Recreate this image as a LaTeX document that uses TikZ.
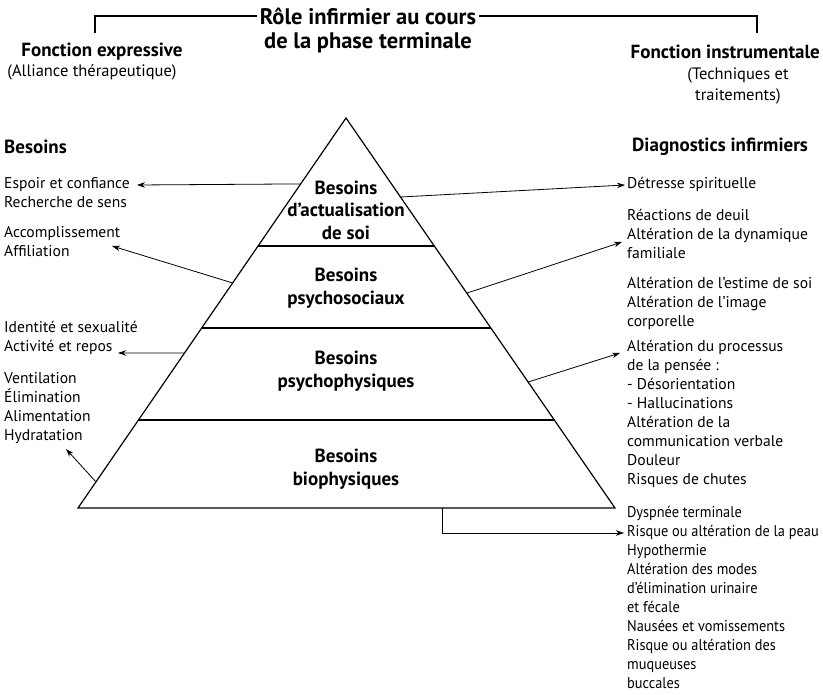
\documentclass[tikz,border=0pt]{standalone}
\usepackage{fontspec}
\setmainfont{PT Sans}
\newfontfamily\narrowsans[FakeStretch=0.92]{PT Sans}
\usetikzlibrary{arrows.meta,positioning,calc}

\begin{document}
\begin{tikzpicture}[x=1pt,y=-1pt,
  >={Stealth[length=8pt,width=5.5pt]},
  txt/.style={inner sep=0pt,align=left,anchor=north west,font=\fontsize{15.6}{19}\selectfont},
  sub/.style={inner sep=0pt,align=center,font=\fontsize{16.5}{21}\selectfont},
  lvl/.style={inner sep=0pt,align=center,font=\bfseries\fontsize{19}{22.5}\selectfont},
  hd/.style={inner sep=0pt,anchor=west,font=\bfseries\fontsize{19}{22}\selectfont},
  ttl/.style={inner xsep=3pt,inner ysep=0pt,font=\bfseries\fontsize{22.5}{27}\selectfont},
  arr/.style={->,line width=0.8pt},
  pyr/.style={line width=1.2pt,line join=miter}]
\useasboundingbox (0,0) rectangle (823,695);
% title and bracket
\node[ttl] (title1) at (368,16) {Rôle infirmier au cours};
\node[ttl] (title2) at (368,43) {de la phase terminale};
\coordinate (brL) at (95,33);
\coordinate (brR) at (757,33);
\draw[line width=2pt] (brL) |- (title1.west);
\draw[line width=2pt] (title1.east) -| (brR);
\node[hd,anchor=center] (fexp) at (102,52) {Fonction expressive};
\node[sub] (fexp2) at (92,72) {(Alliance thérapeutique)};
\node[hd,anchor=east] (finst) at (820,52) {Fonction instrumentale};
\node[sub,anchor=north] (finst2) at (738,68) {(Techniques et\\traitements)};
% pyramid
\coordinate (apex) at (346,118);
\coordinate (bl) at (78,508);
\coordinate (br) at (615,508);
\draw[pyr] (apex) -- (bl) -- (br) -- cycle;
\foreach \n/\t in {a/0.3282,b/0.5385,c/0.7744}
  \draw[pyr] ($(apex)!\t!(bl)$) coordinate (\n w) -- ($(apex)!\t!(br)$) coordinate (\n e);
\node[lvl] (lvl1) at (346,210) {Besoins\\d’actualisation\\de soi};
\node[lvl] (lvl2) at (346,288) {Besoins\\psychosociaux};
\node[lvl] (lvl3) at (346,371) {Besoins\\psychophysiques};
\node[lvl] (lvl4) at (346,469) {Besoins\\biophysiques};
% left column: besoins
\node[hd] (besoins) at (4,147) {Besoins};
\node[txt] (espoir) at (4,177) {Espoir et confiance\\Recherche de sens};
\node[txt] (accomp) at (4,226) {Accomplissement\\Affiliation};
\node[txt] (identite) at (4,321) {Identité et sexualité\\Activité et repos};
\node[txt] (ventil) at (4,372) {Ventilation\\Élimination\\Alimentation\\Hydratation};
% right column: diagnostics
\node[hd] (diag) at (632,147) {Diagnostics infirmiers};
\node[txt] (detresse) at (627,177) {Détresse spirituelle};
\node[txt] (deuil) at (627,209) {Réactions de deuil\\Altération de la dynamique\\familiale};
\node[txt] (estime) at (627,277) {Altération de l’estime de soi\\Altération de l’image\\corporelle};
\node[txt] (pensee) at (627,340) {Altération du processus\\de la pensée :\\- Désorientation\\- Hallucinations\\Altération de la\\communication verbale\\Douleur\\Risques de chutes};
\node[txt,font=\narrowsans\fontsize{15.6}{19}\selectfont] (dyspnee) at (627,506) {Dyspnée terminale\\Risque ou altération de la peau\\Hypothermie\\Altération des modes\\d’élimination urinaire\\et fécale\\Nausées et vomissements\\Risque ou altération des\\muqueuses\\buccales};
% arrow tips
\coordinate (tEspoir) at (137,185);
\coordinate (tAccomp) at (112,246);
\coordinate (tActiv) at (118,353);
\coordinate (tHydra) at (66,449);
\coordinate (tDetr) at (625,185);
\coordinate (tFamil) at (622,242);
\coordinate (tProc) at (620,353);
\coordinate (tPeau) at (624,533);
% connectors
\draw[arr] ($(apex)!0.169!(bl)$) -- (tEspoir);
\draw[arr] ($(apex)!0.423!(bl)$) -- (tAccomp);
\draw[arr] ($(apex)!0.6026!(bl)$) -- (tActiv);
\draw[arr] ($(apex)!0.933!(bl)$) -- (tHydra);
\draw[arr] ($(apex)!0.2026!(br)$) -- (tDetr);
\draw[arr] ($(apex)!0.449!(br)$) -- (tFamil);
\draw[arr] ($(apex)!0.677!(br)$) -- (tProc);
\draw[arr] ($(bl)!0.678!(br)$) |- (tPeau);
\end{tikzpicture}
\end{document}
